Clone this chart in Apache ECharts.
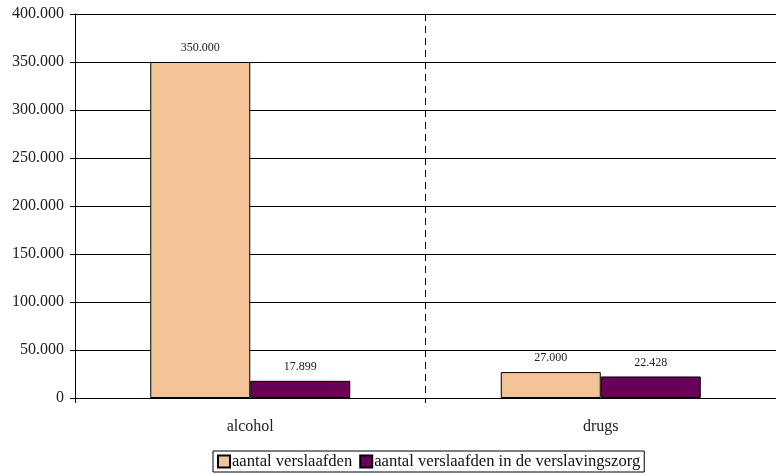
<!DOCTYPE html>
<html><head><meta charset="utf-8">
<script src="https://cdn.jsdelivr.net/npm/echarts@6/dist/echarts.min.js"></script>
<style>html,body{margin:0;padding:0;background:#fff}#c{width:776px;height:475px}</style>
</head><body><div id="c"></div>
<script>
var categories = ['alcohol', 'drugs'];
var seriesNames = ['aantal verslaafden', 'aantal verslaafden in de verslavingszorg'];
var verslaafden = [350000, 27000];
var inZorg = [17899, 22428];
var yTicks = [0, 50000, 100000, 150000, 200000, 250000, 300000, 350000, 400000];

function fmt(v){ return String(v).replace(/\B(?=(\d{3})+(?!\d))/g, '.'); }
var font = 'Liberation Serif';
var chart = echarts.init(document.getElementById('c'));
chart.setOption({
  animation: false,
  grid: { left: 75, right: 0, top: 14, bottom: 77 },
  xAxis: {
    type: 'category', data: categories,
    axisLine: { lineStyle: { color: '#000', width: 1 } },
    axisTick: { show: true, length: 5, lineStyle: { color: '#000' } },
    axisLabel: { fontFamily: font, fontSize: 16, color: '#222', margin: 21 },
    splitLine: { show: true, lineStyle: { color: '#000', type: [7, 5], width: 1 } }
  },
  yAxis: {
    type: 'value', min: yTicks[0], max: yTicks[yTicks.length - 1], interval: 50000,
    axisLine: { show: true, lineStyle: { color: '#000', width: 1 } },
    axisTick: { show: true, length: 5, lineStyle: { color: '#000' } },
    axisLabel: { fontFamily: font, fontSize: 16, color: '#222', margin: 11, formatter: fmt },
    splitLine: { lineStyle: { color: '#000', width: 1 } }
  },
  legend: {
    bottom: 3, left: 213, itemWidth: 12, itemHeight: 12, itemGap: 7,
    borderColor: '#000', borderWidth: 1, padding: [2, 4, 2, 4],
    icon: 'rect',
    textStyle: { fontFamily: font, fontSize: 16.6, color: '#111', padding: [0, 0, 0, -3] },
    data: seriesNames
  },
  series: [
    { name: seriesNames[0], type: 'bar', data: verslaafden, barWidth: 100, barGap: '0%',
      itemStyle: { color: '#F2C396', borderColor: '#000', borderWidth: 1 },
      label: { show: true, position: 'top', distance: 8, fontFamily: font, fontSize: 12, color: '#222', formatter: function(p){ return fmt(p.value); } } },
    { name: seriesNames[1], type: 'bar', data: inZorg, barWidth: 100,
      itemStyle: { color: '#690057', borderColor: '#000', borderWidth: 1 },
      label: { show: true, position: 'top', distance: 8, fontFamily: font, fontSize: 12, color: '#222', formatter: function(p){ return fmt(p.value); } } }
  ]
});
</script></body></html>
